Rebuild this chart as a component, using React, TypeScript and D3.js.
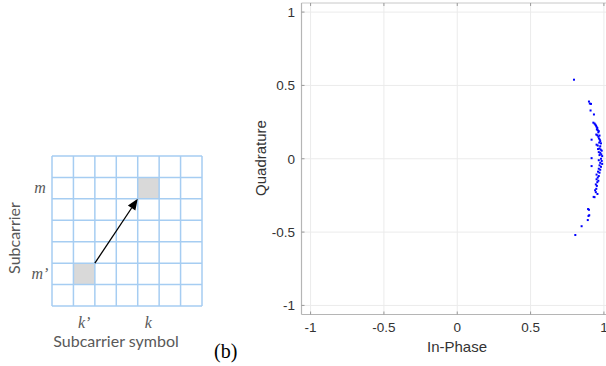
import React from "react";
import * as d3 from "d3";

// ---- Left panel data ----
const gridCols = d3.range(7);
const gridRows = d3.range(7);
const highlightCells = [
  { col: 1, row: 5 },
  { col: 4, row: 1 },
];
const colLabels = [
  { col: 1, text: "k’" },
  { col: 4, text: "k" },
];
const rowLabels = [
  { row: 1, text: "m" },
  { row: 5, text: "m’" },
];

// ---- Right panel data ----
const xTicks = [-1, -0.5, 0, 0.5, 1];
const yTicks = [-1, -0.5, 0, 0.5, 1];
const iPhase = [
  0.796, 0.898, 0.904, 0.912, 0.909, 0.932, 0.928, 0.936, 0.941, 0.946, 0.95, 0.955,
  0.952, 0.958, 0.965, 0.962, 0.948, 0.955, 0.97, 0.962, 0.916, 0.966, 0.972, 0.975,
  0.968, 0.98, 0.95, 0.958, 0.975, 0.97, 0.96, 0.978, 0.985, 0.965, 0.975, 0.982,
  0.97, 0.988, 0.916, 0.98, 0.965, 0.985, 0.975, 0.988, 0.97, 0.916, 0.98, 0.965,
  0.975, 0.96, 0.97, 0.95, 0.965, 0.958, 0.95, 0.962, 0.955, 0.945, 0.952, 0.948,
  0.94, 0.945, 0.956, 0.93, 0.936, 0.892, 0.898, 0.9, 0.895, 0.89, 0.848, 0.805,
];
const quadrature = [
  0.539, 0.39, 0.376, 0.374, 0.329, 0.302, 0.246, 0.24, 0.233, 0.226, 0.218, 0.21,
  0.2, 0.195, 0.188, 0.18, 0.165, 0.16, 0.158, 0.15, 0.13, 0.138, 0.13, 0.12,
  0.11, 0.105, 0.096, 0.09, 0.085, 0.07, 0.066, 0.062, 0.055, 0.045, 0.04, 0.03,
  0.025, 0.018, 0.004, 0.0, -0.01, -0.015, -0.028, -0.035, -0.045, -0.05, -0.055, -0.068,
  -0.075, -0.088, -0.095, -0.108, -0.118, -0.128, -0.14, -0.15, -0.16, -0.175, -0.185, -0.205,
  -0.215, -0.228, -0.24, -0.26, -0.262, -0.343, -0.348, -0.385, -0.39, -0.418, -0.46, -0.52,
];

const W = 606;
const H = 366;

export default function App() {
  // left grid scales
  const cx = d3.scaleBand<number>().domain(gridCols).range([52, 202]);
  const cy = d3.scaleBand<number>().domain(gridRows).range([156, 306]);
  const bw = cx.bandwidth();
  const bh = cy.bandwidth();

  const from = highlightCells[0];
  const to = highlightCells[1];
  const x1 = (cx(from.col) as number) + bw;
  const y1 = cy(from.row) as number;
  const x2 = cx(to.col) as number;
  const y2 = (cy(to.row) as number) + bh;
  const ang = Math.atan2(y2 - y1, x2 - x1);
  const headLen = 11;
  const headHalf = 4.5;
  const bx = x2 - headLen * Math.cos(ang);
  const by = y2 - headLen * Math.sin(ang);
  const px = -Math.sin(ang);
  const py = Math.cos(ang);
  const head = `M${x2},${y2}L${bx + px * headHalf},${by + py * headHalf}L${bx - px * headHalf},${by - py * headHalf}Z`;

  // right plot scales
  const x = d3.scaleLinear().domain([-1.062, 1.062]).range([301.5, 613]);
  const y = d3.scaleLinear().domain([-1.062, 1.062]).range([314.5, 3]);
  const [xl, xr] = x.range();
  const [yb, yt] = y.range();
  const pts = iPhase.map((v, i) => [v, quadrature[i]]);

  const gridBlue = "#a6cdf2";
  const tickFont = "'Liberation Sans', Arial, sans-serif";

  return (
    <svg width={W} height={H} style={{ position: "absolute", left: 0, top: 0, background: "#fff" }}>
      {/* ---------- left schematic ---------- */}
      {highlightCells.map((c, i) => (
        <rect key={i} x={cx(c.col)} y={cy(c.row)} width={bw} height={bh} fill="#d9d9d9" />
      ))}
      {d3.range(8).map((i) => (
        <line key={"v" + i} x1={52 + i * bw} x2={52 + i * bw} y1={156} y2={306} stroke={gridBlue} strokeWidth={1.5} />
      ))}
      {d3.range(8).map((i) => (
        <line key={"h" + i} x1={52} x2={202} y1={156 + i * bh} y2={156 + i * bh} stroke={gridBlue} strokeWidth={1.5} />
      ))}
      <line x1={x1} y1={y1} x2={bx} y2={by} stroke="#000" strokeWidth={1.3} />
      <path d={head} fill="#000" />
      {rowLabels.map((r) => (
        <text key={r.text} x={40} y={(cy(r.row) as number) + bh / 2 + 5} textAnchor="middle"
          fontFamily="'Liberation Serif', 'DejaVu Serif', serif" fontStyle="italic" fontSize={16} fill="#595959">
          {r.text}
        </text>
      ))}
      {colLabels.map((c) => (
        <text key={c.text} x={(cx(c.col) as number) + bw / 2} y={328} textAnchor="middle"
          fontFamily="'Liberation Serif', 'DejaVu Serif', serif" fontStyle="italic" fontSize={16} fill="#595959">
          {c.text}
        </text>
      ))}
      <text x={116} y={347} textAnchor="middle" fontFamily="Lato, 'Open Sans', sans-serif" fontSize={16} fill="#595959">
        Subcarrier symbol
      </text>
      <text transform="translate(20,238) rotate(-90)" textAnchor="middle" fontFamily="Lato, 'Open Sans', sans-serif"
        fontSize={16} fill="#595959">
        Subcarrier
      </text>
      <text x={214} y={358} fontFamily="'Liberation Serif', serif" fontSize={20} fill="#000">
        (b)
      </text>

      {/* ---------- right scatter ---------- */}
      {xTicks.map((t) => (
        <line key={"gx" + t} x1={x(t)} x2={x(t)} y1={yt} y2={yb} stroke="#ebebeb" strokeWidth={1} />
      ))}
      {yTicks.map((t) => (
        <line key={"gy" + t} x1={xl} x2={xr} y1={y(t)} y2={y(t)} stroke="#ebebeb" strokeWidth={1} />
      ))}
      {/* box */}
      <line x1={xl} x2={xr} y1={yt} y2={yt} stroke="#c8c8c8" strokeWidth={1} />
      <line x1={xl} x2={xr} y1={yb} y2={yb} stroke="#b5b5b5" strokeWidth={1.2} />
      <line x1={xl} x2={xl} y1={yt} y2={yb} stroke="#b5b5b5" strokeWidth={1.2} />
      {/* ticks */}
      {xTicks.map((t) => (
        <g key={"tx" + t}>
          <line x1={x(t)} x2={x(t)} y1={yb} y2={yb - 3} stroke="#9a9a9a" />
          <line x1={x(t)} x2={x(t)} y1={yt} y2={yt + 3} stroke="#9a9a9a" />
          <text x={x(t)} y={332} textAnchor="middle" fontFamily={tickFont} fontSize={13.5} fill="#333">
            {String(t)}
          </text>
        </g>
      ))}
      {yTicks.map((t) => (
        <g key={"ty" + t}>
          <line x1={xl} x2={xl + 3} y1={y(t)} y2={y(t)} stroke="#9a9a9a" />
          <text x={295} y={y(t) + 5} textAnchor="end" fontFamily={tickFont} fontSize={13.5} fill="#333">
            {String(t)}
          </text>
        </g>
      ))}
      <text x={457} y={352} textAnchor="middle" fontFamily={tickFont} fontSize={15} fill="#333">
        In-Phase
      </text>
      <text transform="translate(266,158) rotate(-90)" textAnchor="middle" fontFamily={tickFont} fontSize={15} fill="#333">
        Quadrature
      </text>
      {pts.map((p, i) => (
        <rect key={i} x={x(p[0]) - 1} y={y(p[1]) - 1} width={2} height={2} fill="#0000ff" />
      ))}
    </svg>
  );
}
